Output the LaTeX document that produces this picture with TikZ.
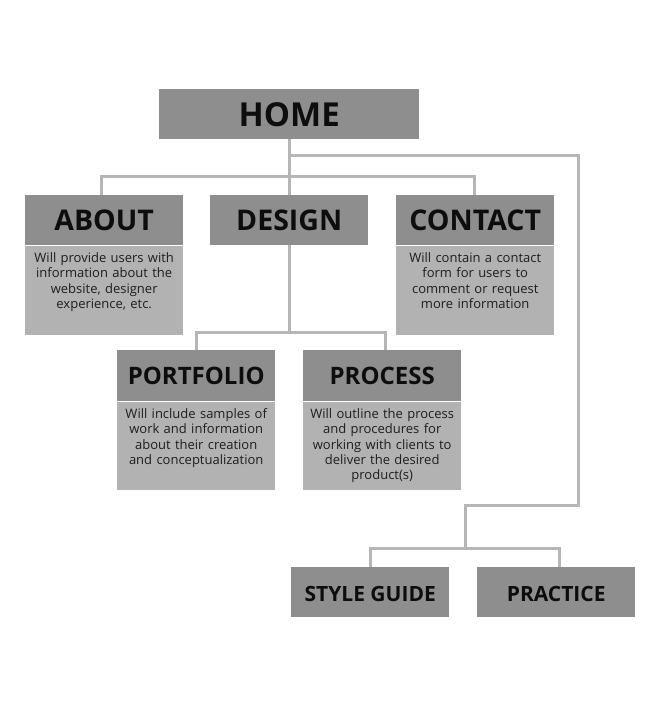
\documentclass[tikz,border=0pt]{standalone}
\usepackage{fontspec}
\setmainfont{Open Sans}
\usetikzlibrary{calc}
\definecolor{headfill}{HTML}{8E8E8E}
\definecolor{bodyfill}{HTML}{B2B2B2}
\definecolor{linecol}{HTML}{B6B6B6}
\definecolor{bodytext}{HTML}{1E1E1E}
\begin{document}
\begin{tikzpicture}[x=1pt,y=-1pt,
  headbox/.style={fill=headfill, minimum width=158pt, minimum height=50pt, inner sep=0pt, anchor=north west, text=black!95, font=\bfseries},
  bodybox/.style={fill=bodyfill, minimum width=158pt, text width=152pt, align=center, inner xsep=3pt, inner ysep=5pt, anchor=north, text=bodytext, font=\fontsize{13}{15.3}\selectfont},
  conn/.style={draw=linecol, line width=3pt}]
\useasboundingbox (0,0) rectangle (660,707);
% headers
\node[headbox, minimum width=260pt, font=\bfseries\fontsize{33}{36}\selectfont] (home) at (159,89) {HOME};
\node[headbox, font=\bfseries\fontsize{28.5}{32}\selectfont] (about) at (25,195) {ABOUT};
\node[headbox, font=\bfseries\fontsize{28.5}{32}\selectfont] (design) at (210,195) {DESIGN};
\node[headbox, font=\bfseries\fontsize{28.5}{32}\selectfont] (contact) at (396,195) {CONTACT};
\node[headbox, minimum height=51pt, font=\bfseries\fontsize{24}{28}\selectfont] (portfolio) at (117,350) {PORTFOLIO};
\node[headbox, minimum height=51pt, font=\bfseries\fontsize{24}{28}\selectfont] (process) at (303,350) {PROCESS};
\node[headbox, font=\bfseries\fontsize{21}{24}\selectfont, text height=18pt, text depth=0pt] (stylebox) at (291,567) {STYLE GUIDE};
\node[headbox, font=\bfseries\fontsize{21}{24}\selectfont, text height=18pt, text depth=0pt] (practice) at (477,567) {PRACTICE};
% bodies
\node[bodybox] (aboutb) at (about.south) {\parbox[t][79pt][t]{152pt}{\vspace*{2pt}\centering Will provide users with\\information about the\\website, designer\\experience, etc.}};
\node[bodybox] (contactb) at (contact.south) {\parbox[t][79pt][t]{152pt}{\vspace*{2pt}\centering Will contain a contact\\form for users to\\comment or request\\more information}};
\node[bodybox] (portfoliob) at (portfolio.south) {\parbox[t][78pt][t]{152pt}{\vspace*{2pt}\centering Will include samples of\\work and information\\about their creation\\and conceptualization}};
\node[bodybox] (processb) at (process.south) {\parbox[t][78pt][t]{152pt}{\vspace*{2pt}\centering Will outline the process\\and procedures for\\working with clients to\\deliver the desired\\product(s)}};
% connectors
\draw[conn] (home.south) -- (design.north);
\draw[conn] ([xshift=-2.5pt]about.north) -- ++(0,-18.5) -| ([xshift=-1pt]contact.north);
\draw[conn] (home.south) ++(0,16) -| (578,505) -| ($(stylebox.north)!0.5!(practice.north)+(2,-19)$);
\draw[conn] (stylebox.north) -- ++(0,-19) -| ([xshift=3pt]practice.north);
\draw[conn] (design.south) -- ++(0,87);
\draw[conn] (portfolio.north) -- ++(0,-18) -| ([xshift=3pt]process.north);
\end{tikzpicture}
\end{document}
